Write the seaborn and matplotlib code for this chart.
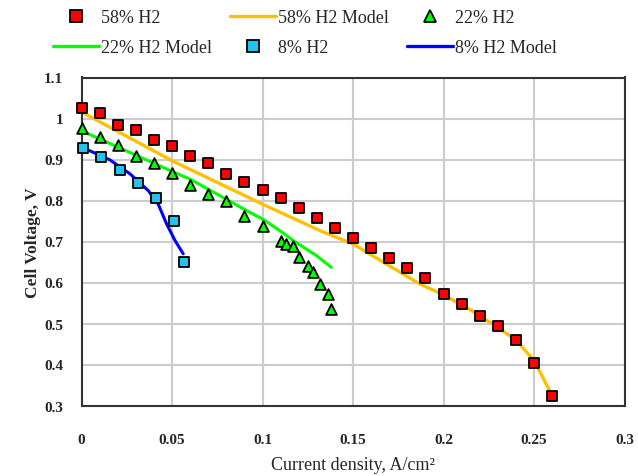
import matplotlib
matplotlib.use("Agg")
import matplotlib.pyplot as plt
import seaborn as sns
from matplotlib.ticker import FuncFormatter
from matplotlib.lines import Line2D

# ---- data ----
h58_x = [0.00, 0.01, 0.02, 0.03, 0.04, 0.05, 0.06, 0.07, 0.08, 0.09, 0.10, 0.11, 0.12, 0.13,
         0.14, 0.15, 0.16, 0.17, 0.18, 0.19, 0.20, 0.21, 0.22, 0.23, 0.24, 0.25, 0.26]
h58_y = [1.025, 1.013, 0.985, 0.972, 0.948, 0.934, 0.909, 0.891, 0.865, 0.846, 0.826, 0.805,
         0.782, 0.757, 0.732, 0.708, 0.683, 0.659, 0.635, 0.611, 0.571, 0.547, 0.518, 0.493,
         0.459, 0.403, 0.322]

h58m_x = [0.000, 0.050, 0.100, 0.132, 0.150, 0.187, 0.200, 0.215, 0.230, 0.240, 0.250, 0.259]
h58m_y = [1.016, 0.897, 0.791, 0.726, 0.694, 0.596, 0.570, 0.533, 0.490, 0.460, 0.410, 0.333]

h22_x = [0.000, 0.010, 0.020, 0.030, 0.040, 0.050, 0.060, 0.070, 0.080, 0.090, 0.100, 0.110,
         0.113, 0.117, 0.120, 0.125, 0.128, 0.132, 0.136, 0.138]
h22_y = [0.976, 0.954, 0.936, 0.909, 0.892, 0.867, 0.839, 0.816, 0.800, 0.763, 0.738, 0.702,
         0.694, 0.690, 0.661, 0.641, 0.625, 0.596, 0.572, 0.535]

h22m_x = [0.000, 0.050, 0.060, 0.093, 0.100, 0.111, 0.117, 0.130, 0.138]
h22m_y = [0.970, 0.871, 0.852, 0.771, 0.755, 0.722, 0.702, 0.665, 0.637]

h8_x = [0.001, 0.0106, 0.0213, 0.0314, 0.0412, 0.0513, 0.0568]
h8_y = [0.928, 0.905, 0.874, 0.842, 0.805, 0.751, 0.651]

h8m_x = [0.001, 0.0047, 0.0157, 0.0268, 0.0369, 0.0424, 0.047, 0.0517, 0.0562]
h8m_y = [0.928, 0.921, 0.899, 0.865, 0.824, 0.791, 0.743, 0.702, 0.670]

x_ticks = [0, 0.05, 0.1, 0.15, 0.2, 0.25, 0.3]
y_ticks = [0.3, 0.4, 0.5, 0.6, 0.7, 0.8, 0.9, 1.0, 1.1]

# ---- style ----
sns.set_theme(style="white")
plt.rcParams['font.family'] = ['Liberation Serif', 'DejaVu Serif']

W, H = 638, 477
fig = plt.figure(figsize=(W / 100, H / 100), dpi=100)
ax = fig.add_axes([81.5 / W, 1 - 406.5 / H, (624.5 - 81.5) / W, (406.5 - 78.5) / H])

c_red, c_yel, c_grn, c_cyan, c_blue = "#FF0000", "#FFC000", "#00FF00", "#22C3F0", "#0000FF"

sns.lineplot(x=h58m_x, y=h58m_y, ax=ax, color=c_yel, lw=2.4, sort=False, zorder=2)
sns.lineplot(x=h22m_x, y=h22m_y, ax=ax, color=c_grn, lw=2.2, sort=False, zorder=2)
sns.lineplot(x=h8m_x, y=h8m_y, ax=ax, color=c_blue, lw=2.2, sort=False, zorder=2)

sns.scatterplot(x=h58_x, y=h58_y, ax=ax, marker="s", s=60, color=c_red, edgecolor="black",
                linewidth=1.3, zorder=3, clip_on=False)
sns.scatterplot(x=h22_x, y=h22_y, ax=ax, marker="^", s=60, color=c_grn, edgecolor="black",
                linewidth=1.3, zorder=3, clip_on=False)
sns.scatterplot(x=h8_x, y=h8_y, ax=ax, marker="s", s=60, color=c_cyan, edgecolor="black",
                linewidth=1.3, zorder=3, clip_on=False)

ax.set_xlim(0, 0.3)
ax.set_ylim(0.3, 1.1)
ax.set_xticks(x_ticks)
ax.set_yticks(y_ticks)
fmt = FuncFormatter(lambda v, p: "%g" % round(v, 3))
ax.xaxis.set_major_formatter(fmt)
ax.yaxis.set_major_formatter(fmt)
ax.grid(True, color="#CCCCCC", lw=1.5)
ax.set_axisbelow(True)
for s in ax.spines.values():
    s.set_color("#333333")
    s.set_linewidth(1.5)
ax.tick_params(axis="x", length=0, pad=20, labelsize=11)
ax.tick_params(axis="y", length=0, pad=13, labelsize=11)
for lab in ax.get_xticklabels() + ax.get_yticklabels():
    lab.set_fontweight("bold")

ax.set_xlabel("Current density, A/cm²", fontsize=13, labelpad=7)
ax.set_ylabel("Cell Voltage, V", fontsize=12.5, fontweight="bold", labelpad=2)

handles = [
    Line2D([], [], ls="", marker="s", ms=8, mfc=c_red, mec="black", mew=1.3, label="58% H2"),
    Line2D([], [], color=c_grn, lw=2.4, label="22% H2 Model"),
    Line2D([], [], color=c_yel, lw=2.4, label="58% H2 Model"),
    Line2D([], [], ls="", marker="s", ms=8, mfc=c_cyan, mec="black", mew=1.3, label="8% H2"),
    Line2D([], [], ls="", marker="^", ms=8, mfc=c_grn, mec="black", mew=1.3, label="22% H2"),
    Line2D([], [], color=c_blue, lw=2.4, label="8% H2 Model"),
]
fig.legend(handles=handles, ncol=3, loc="upper left",
           bbox_to_anchor=(53 / W, 1 - 10 / H), borderaxespad=0, borderpad=0,
           frameon=False, fontsize=13, handlelength=2.55, columnspacing=1.0,
           handletextpad=0.1, labelspacing=0.72)

fig.savefig("out.png", dpi=100)
